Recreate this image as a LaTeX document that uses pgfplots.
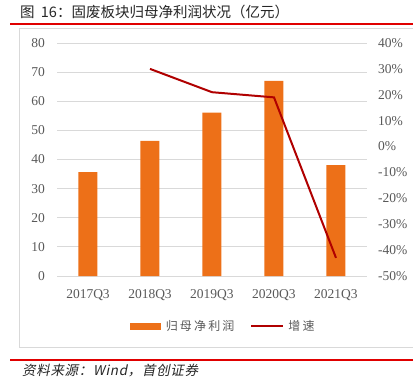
\documentclass[border=0pt]{standalone}
\usepackage{pgfplots}
\pgfplotsset{compat=1.18}
\usepackage{fontspec}
\setmainfont{Liberation Serif}
\newfontfamily\cjk{Noto Sans CJK SC}
\newfontfamily\cjkleg[LetterSpace=18]{Noto Sans CJK SC}
\newfontfamily\cjkit[FakeSlant=0.2,LetterSpace=5]{Noto Sans CJK SC}
\definecolor{barc}{HTML}{ED7018}
\definecolor{linec}{HTML}{B00000}
\definecolor{tickc}{HTML}{595959}
\definecolor{gridc}{HTML}{D9D9D9}
\definecolor{redl}{HTML}{E00000}
\begin{document}
\begin{tikzpicture}
\path[use as bounding box] (0bp,0bp) rectangle (413bp,-381bp);
\draw[gridc, line width=0.8bp] (19bp,-28bp) rectangle (414bp,-347bp);
\node[anchor=west, font=\cjk\fontsize{14.5bp}{16bp}\selectfont, text=black!85, inner sep=0pt] at (20bp,-11.5bp) {图\hspace{3bp} 16：固废板块归母净利润状况（亿元）};
\draw[redl, line width=1.5bp] (10bp,-24bp) -- (413bp,-24bp);
\draw[redl, line width=1.5bp] (10bp,-360bp) -- (413bp,-360bp);
\node[anchor=west, inner sep=0pt, text=black!85] at (22bp,-371bp) {\cjkit\fontsize{13.5bp}{15bp}\selectfont 资料来源：{\itshape Wind}，首创证券};
\begin{axis}[
  at={(57bp,-276bp)}, anchor=south west,
  scale only axis, width=310bp, height=233bp,
  xmin=-0.5, xmax=4.5, ymin=0, ymax=80,
  xtick={0,1,2,3,4},
  xticklabels={2017Q3,2018Q3,2019Q3,2020Q3,2021Q3},
  ytick={0,10,20,30,40,50,60,70,80},
  yticklabels={0,10,20,30,40,50,60,70,80},
  ymajorgrids, grid style={gridc, line width=0.8bp},
  axis line style={draw=none},
  major tick length=0pt,
  tick label style={text=tickc, font=\fontsize{13.5bp}{15bp}\selectfont, inner sep=0pt},
  yticklabel style={anchor=east, xshift=-12bp},
  xticklabel style={anchor=north, yshift=-13bp},
]
\addplot[ybar, bar width=19bp, fill=barc, draw=none] coordinates {(0,35.7) (1,46.4) (2,56.1) (3,67.0) (4,38.1)};
\end{axis}
\begin{axis}[
  at={(57bp,-276bp)}, anchor=south west,
  scale only axis, width=310bp, height=233bp,
  xmin=-0.5, xmax=4.5, ymin=-50, ymax=40,
  axis y line*=right, axis x line=none,
  ytick={-50,-40,-30,-20,-10,0,10,20,30,40},
  yticklabels={-50\%,-40\%,-30\%,-20\%,-10\%,0\%,10\%,20\%,30\%,40\%},
  axis line style={draw=none},
  major tick length=0pt,
  tick label style={text=tickc, font=\fontsize{13.5bp}{15bp}\selectfont, inner sep=0pt},
  yticklabel style={anchor=west, xshift=11bp},
  legend columns=2,
  legend style={draw=none, fill=none, at={(0.534,-0.215)}, anchor=center,
    font=\cjkleg\fontsize{12bp}{14bp}\selectfont, text=tickc,
    /tikz/every even column/.append style={column sep=16bp},
    nodes={inner sep=0pt}},
  legend cell align=left,
]
\addlegendimage{legend image code/.code={\fill[barc] (0bp,-3bp) rectangle (30bp,3bp);}}
\addlegendentry{\hspace{5bp}归母净利润}
\addplot[linec, line width=2bp, legend image code/.code={\draw[linec, line width=2bp] (0bp,0bp) -- (32bp,0bp);}] coordinates {(1,30) (2,21) (3,19) (4,-43)};
\addlegendentry{\hspace{4bp}增速}
\end{axis}
\end{tikzpicture}
\end{document}
